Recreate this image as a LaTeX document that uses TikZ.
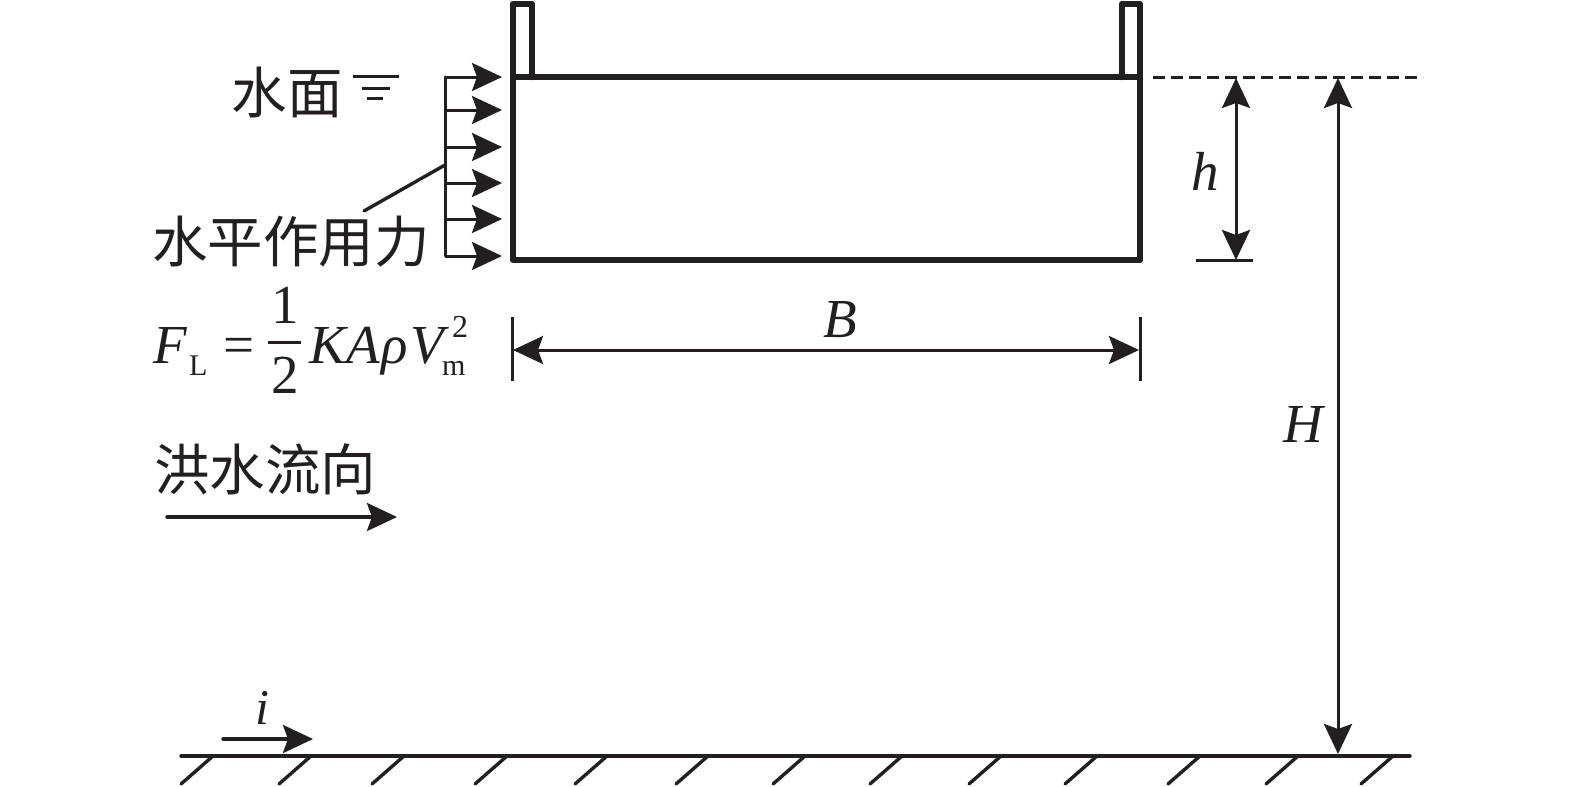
\documentclass[tikz,border=0pt]{standalone}
\usepackage{fontspec}
\usetikzlibrary{arrows.meta}
\setmainfont{Liberation Serif}
\newfontfamily\cjk{Noto Sans CJK SC}[Scale=1]
\definecolor{ink}{HTML}{231F20}
\tikzset{
  x=1pt,y=-1pt,
  every node/.style={inner sep=0pt,outer sep=0pt,text=ink},
  wall/.style={draw=ink,line width=6.6pt,line join=round,line cap=round},
  thin line/.style={draw=ink,line width=3pt},
  bold line/.style={draw=ink,line width=3.4pt,line cap=round},
  hd/.style={-{Stealth[length=30pt,width=28pt,inset=5pt]}},
  dbl/.style={{Stealth[length=30pt,width=28pt,inset=5pt]}-{Stealth[length=30pt,width=28pt,inset=5pt]}},
  cn/.style={font=\cjk\fontsize{55.5}{55.5}\selectfont,anchor=center},
  big/.style={font=\fontsize{55}{55}\selectfont,anchor=base west},
  bigc/.style={font=\fontsize{55}{55}\selectfont,anchor=base},
  small/.style={font=\fontsize{30}{30}\selectfont,anchor=base west},
}
\begin{document}
\begin{tikzpicture}
\useasboundingbox (0,0) rectangle (1575,787);
% box and parapets
\coordinate (bl) at (513,260);
\coordinate (br) at (1140,260);
\coordinate (tl) at (513,77);
\coordinate (tr) at (1140,77);
\draw[wall] (tl) rectangle (br);
\draw[wall] (tl) -- (513,4) -- (532,4) -- (532,77);
\draw[wall] (1122,77) -- (1122,4) -- (1140,4) -- (tr);
% water level symbol and text
\node[cn] (water) at (287,92) {水面};
\coordinate (w1a) at (353,76); \coordinate (w1b) at (399,76);
\coordinate (w2a) at (362,88); \coordinate (w2b) at (390,88);
\coordinate (w3a) at (367,98); \coordinate (w3b) at (383,98);
\draw[thin line] (w1a) -- (w1b);
\draw[thin line] (w2a) -- (w2b);
\draw[thin line] (w3a) -- (w3b);
% horizontal load arrows
\foreach \n/\y in {a/77,b/110,c/147,d/183,e/219,f/256}{
  \coordinate (s\n) at (445,\y);
  \coordinate (t\n) at (502,\y);
  \draw[thin line,hd] (s\n) -- (t\n);
}
\draw[thin line,line cap=round] (sa) -- (sf);
\node[cn] (force) at (291,242) {水平作用力};
\coordinate (lead) at (445,165);
\coordinate (leadend) at (364,211);
\draw[bold line] (lead) -- (leadend);
% formula
\node[big,font=\fontsize{55}{55}\selectfont\itshape] (fF) at (153,363) {F};
\node[small] (fL) at (189,375) {L};
\node[big] (feq) at (223,363) {=};
\node[bigc] (fone) at (285,323) {1};
\node[bigc] (ftwo) at (285,393) {2};
\coordinate (fra) at (268,342); \coordinate (frb) at (301,342);
\draw[thin line] (fra) -- (frb);
\node[big,font=\fontsize{55}{55}\selectfont\itshape] (fK) at (309,363) {K\kern1ptA\kern1ptρ\kern3ptV};
\node[small,font=\fontsize{32}{32}\selectfont] (fsup) at (452,337) {2};
\node[small] (fsub) at (442,375) {m};
% flood direction
\node[cn] (flood) at (265,469) {洪水流向};
\coordinate (fla) at (167,517); \coordinate (flb) at (397,517);
\draw[bold line,hd] (fla) -- (flb);
% B dimension
\coordinate (b1t) at (512,317); \coordinate (b1b) at (512,381);
\coordinate (b2t) at (1140,317); \coordinate (b2b) at (1140,381);
\draw[thin line] (b1t) -- (b1b);
\draw[thin line] (b2t) -- (b2b);
\coordinate (ba) at (513,350); \coordinate (bb) at (1139,350);
\draw[thin line,dbl] (ba) -- (bb);
\node[bigc,font=\fontsize{55}{55}\selectfont\itshape] (B) at (840,337) {B};
% level line
\coordinate (da) at (1153,77.5); \coordinate (db) at (1423,77.5);
\draw[draw=ink,line width=3pt,dash pattern=on 12pt off 6pt] (da) -- (db);
% h dimension
\coordinate (ha) at (1236,78); \coordinate (hb) at (1236,260);
\draw[thin line,dbl] (ha) -- (hb);
\coordinate (hl) at (1196,260); \coordinate (hr) at (1253,260);
\draw[thin line] (hl) -- (hr);
\node[bigc,font=\fontsize{55}{55}\selectfont\itshape] (h) at (1205,190) {h};
% H dimension
\coordinate (Ha) at (1338,78); \coordinate (Hb) at (1338,754);
\draw[thin line,dbl] (Ha) -- (Hb);
\node[bigc,font=\fontsize{55}{55}\selectfont\itshape] (H) at (1303,442) {H};
% slope
\node[bigc,font=\fontsize{50}{50}\selectfont\itshape] (i) at (262,724) {i};
\coordinate (ia) at (223,739); \coordinate (ib) at (313,739);
\draw[bold line,hd] (ia) -- (ib);
% ground
\coordinate (ga) at (181,756); \coordinate (gb) at (1410,756);
\draw[bold line] (ga) -- (gb);
\foreach \x in {181,279,372,475,575,676,773,870,969,1065,1168,1266,1361}{
  \draw[bold line] (\x,784) -- (\x+32,756);
}
\end{tikzpicture}
\end{document}
